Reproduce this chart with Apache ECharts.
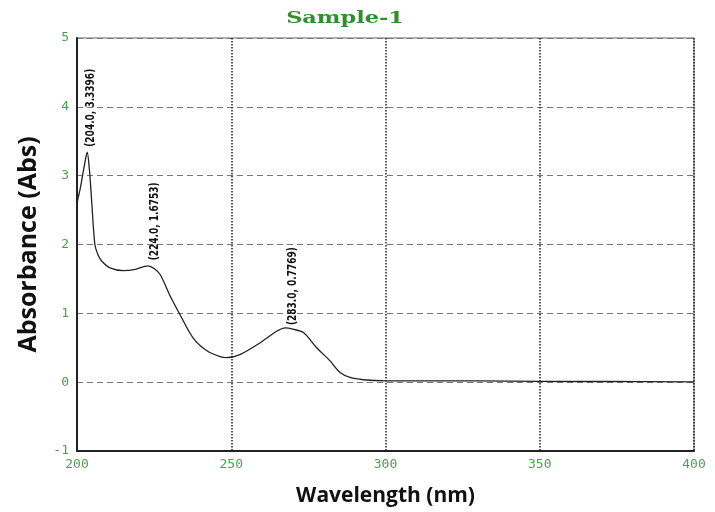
<!DOCTYPE html>
<html>
<head>
<meta charset="utf-8">
<script src="https://cdn.jsdelivr.net/npm/echarts@6/dist/echarts.min.js"></script>
<style>html,body{margin:0;padding:0;background:#fff;}#c{width:715px;height:512px;}</style>
</head>
<body>
<div id="c"></div>
<script>
var title = 'Sample-1';
var xAxisName = 'Wavelength (nm)';
var yAxisName = 'Absorbance (Abs)';
var wavelength = [200, 200.1, 201, 201.6, 202.4, 203.3, 204, 204.8, 205.8, 206.8, 208, 210.7, 215, 219, 223, 225, 227, 230, 233.4, 237.6, 242, 246.4, 248.5, 252.8, 259.3, 264.7, 267.5, 270, 273.4, 277.7, 282, 285.3, 288.5, 292.8, 300, 320, 340, 360, 372, 400];
var absorbance = [1.98, 2.6, 2.8, 2.95, 3.15, 3.34, 3.1, 2.6, 2.0, 1.85, 1.76, 1.66, 1.62, 1.64, 1.69, 1.65, 1.56, 1.27, 0.98, 0.645, 0.46, 0.37, 0.356, 0.40, 0.57, 0.74, 0.79, 0.77, 0.72, 0.50, 0.31, 0.14, 0.068, 0.035, 0.02, 0.02, 0.015, 0.01, 0.01, 0.005];
var peakX = [204.5, 225.3, 270];
var peakY = [3.42, 1.77, 0.83];
var peakLabels = ['(204.0, 3.3396)', '(224.0, 1.6753)', '(283.0, 0.7769)'];

var chart = echarts.init(document.getElementById('c'), null, {renderer: 'canvas'});
var lineData = wavelength.map(function (w, i) { return [w, absorbance[i]]; });
var peakData = peakX.map(function (w, i) { return [w, peakY[i]]; });
var tickFont = {color: '#4f9f4f', fontFamily: 'DejaVu Sans Mono', fontSize: 13};
var titleGraphic = {
  type: 'text', x: 345, y: 19, scaleX: 1.4,
  style: {
    text: title, fill: '#2f8f2f', font: 'bold 16px "DejaVu Serif"',
    textAlign: 'center', textVerticalAlign: 'middle', align: 'center', verticalAlign: 'middle'
  }
};
chart.setOption({
  animation: false,
  backgroundColor: '#fff',
  graphic: [titleGraphic],
  grid: {left: 77, right: 21, top: 38, bottom: 58, show: true, borderColor: '#666', borderWidth: 1},
  xAxis: {
    type: 'value', min: 200, max: 400, interval: 50,
    name: xAxisName, nameLocation: 'middle', nameGap: 35,
    nameTextStyle: {color: '#111', fontFamily: 'Open Sans', fontWeight: 'bold', fontSize: 21},
    axisLine: {show: true, onZero: false, lineStyle: {color: '#222', width: 2}},
    axisTick: {show: false},
    axisLabel: Object.assign({margin: 7}, tickFont),
    splitLine: {show: true, lineStyle: {color: '#222', type: 'dotted', width: 1.5}}
  },
  yAxis: {
    type: 'value', min: -1, max: 5, interval: 1,
    name: yAxisName, nameLocation: 'middle', nameGap: 36, nameRotate: 90,
    nameTextStyle: {color: '#111', fontFamily: 'Open Sans', fontWeight: 'bold', fontSize: 25},
    axisLine: {show: true, onZero: false, lineStyle: {color: '#222', width: 2}},
    axisTick: {show: false},
    axisLabel: Object.assign({margin: 8}, tickFont),
    splitLine: {show: true, lineStyle: {color: '#777', type: [6, 4], width: 1.2}}
  },
  series: [
    {
      type: 'line', data: lineData, showSymbol: false, smooth: 0.3,
      lineStyle: {color: '#222', width: 1.3}, z: 3
    },
    {
      type: 'scatter', data: peakData, symbolSize: 0, z: 4, silent: true
    }
  ]
});

// condensed, rotated peak annotations placed at the data coordinates
var labelFont = 'bold 13px "DejaVu Sans"';
var ctx = document.createElement('canvas').getContext('2d');
ctx.font = labelFont;
var labelGraphics = peakData.map(function (p, i) {
  var px = chart.convertToPixel({seriesIndex: 1}, p);
  var w = ctx.measureText(peakLabels[i]).width;
  return {
    type: 'text', x: px[0], y: px[1], rotation: Math.PI / 2, scaleX: 78 / w, z: 10,
    style: {
      text: peakLabels[i], fill: '#111', font: labelFont,
      textAlign: 'left', textVerticalAlign: 'middle', align: 'left', verticalAlign: 'middle'
    }
  };
});
chart.setOption({graphic: [titleGraphic].concat(labelGraphics)});
</script>
</body>
</html>
